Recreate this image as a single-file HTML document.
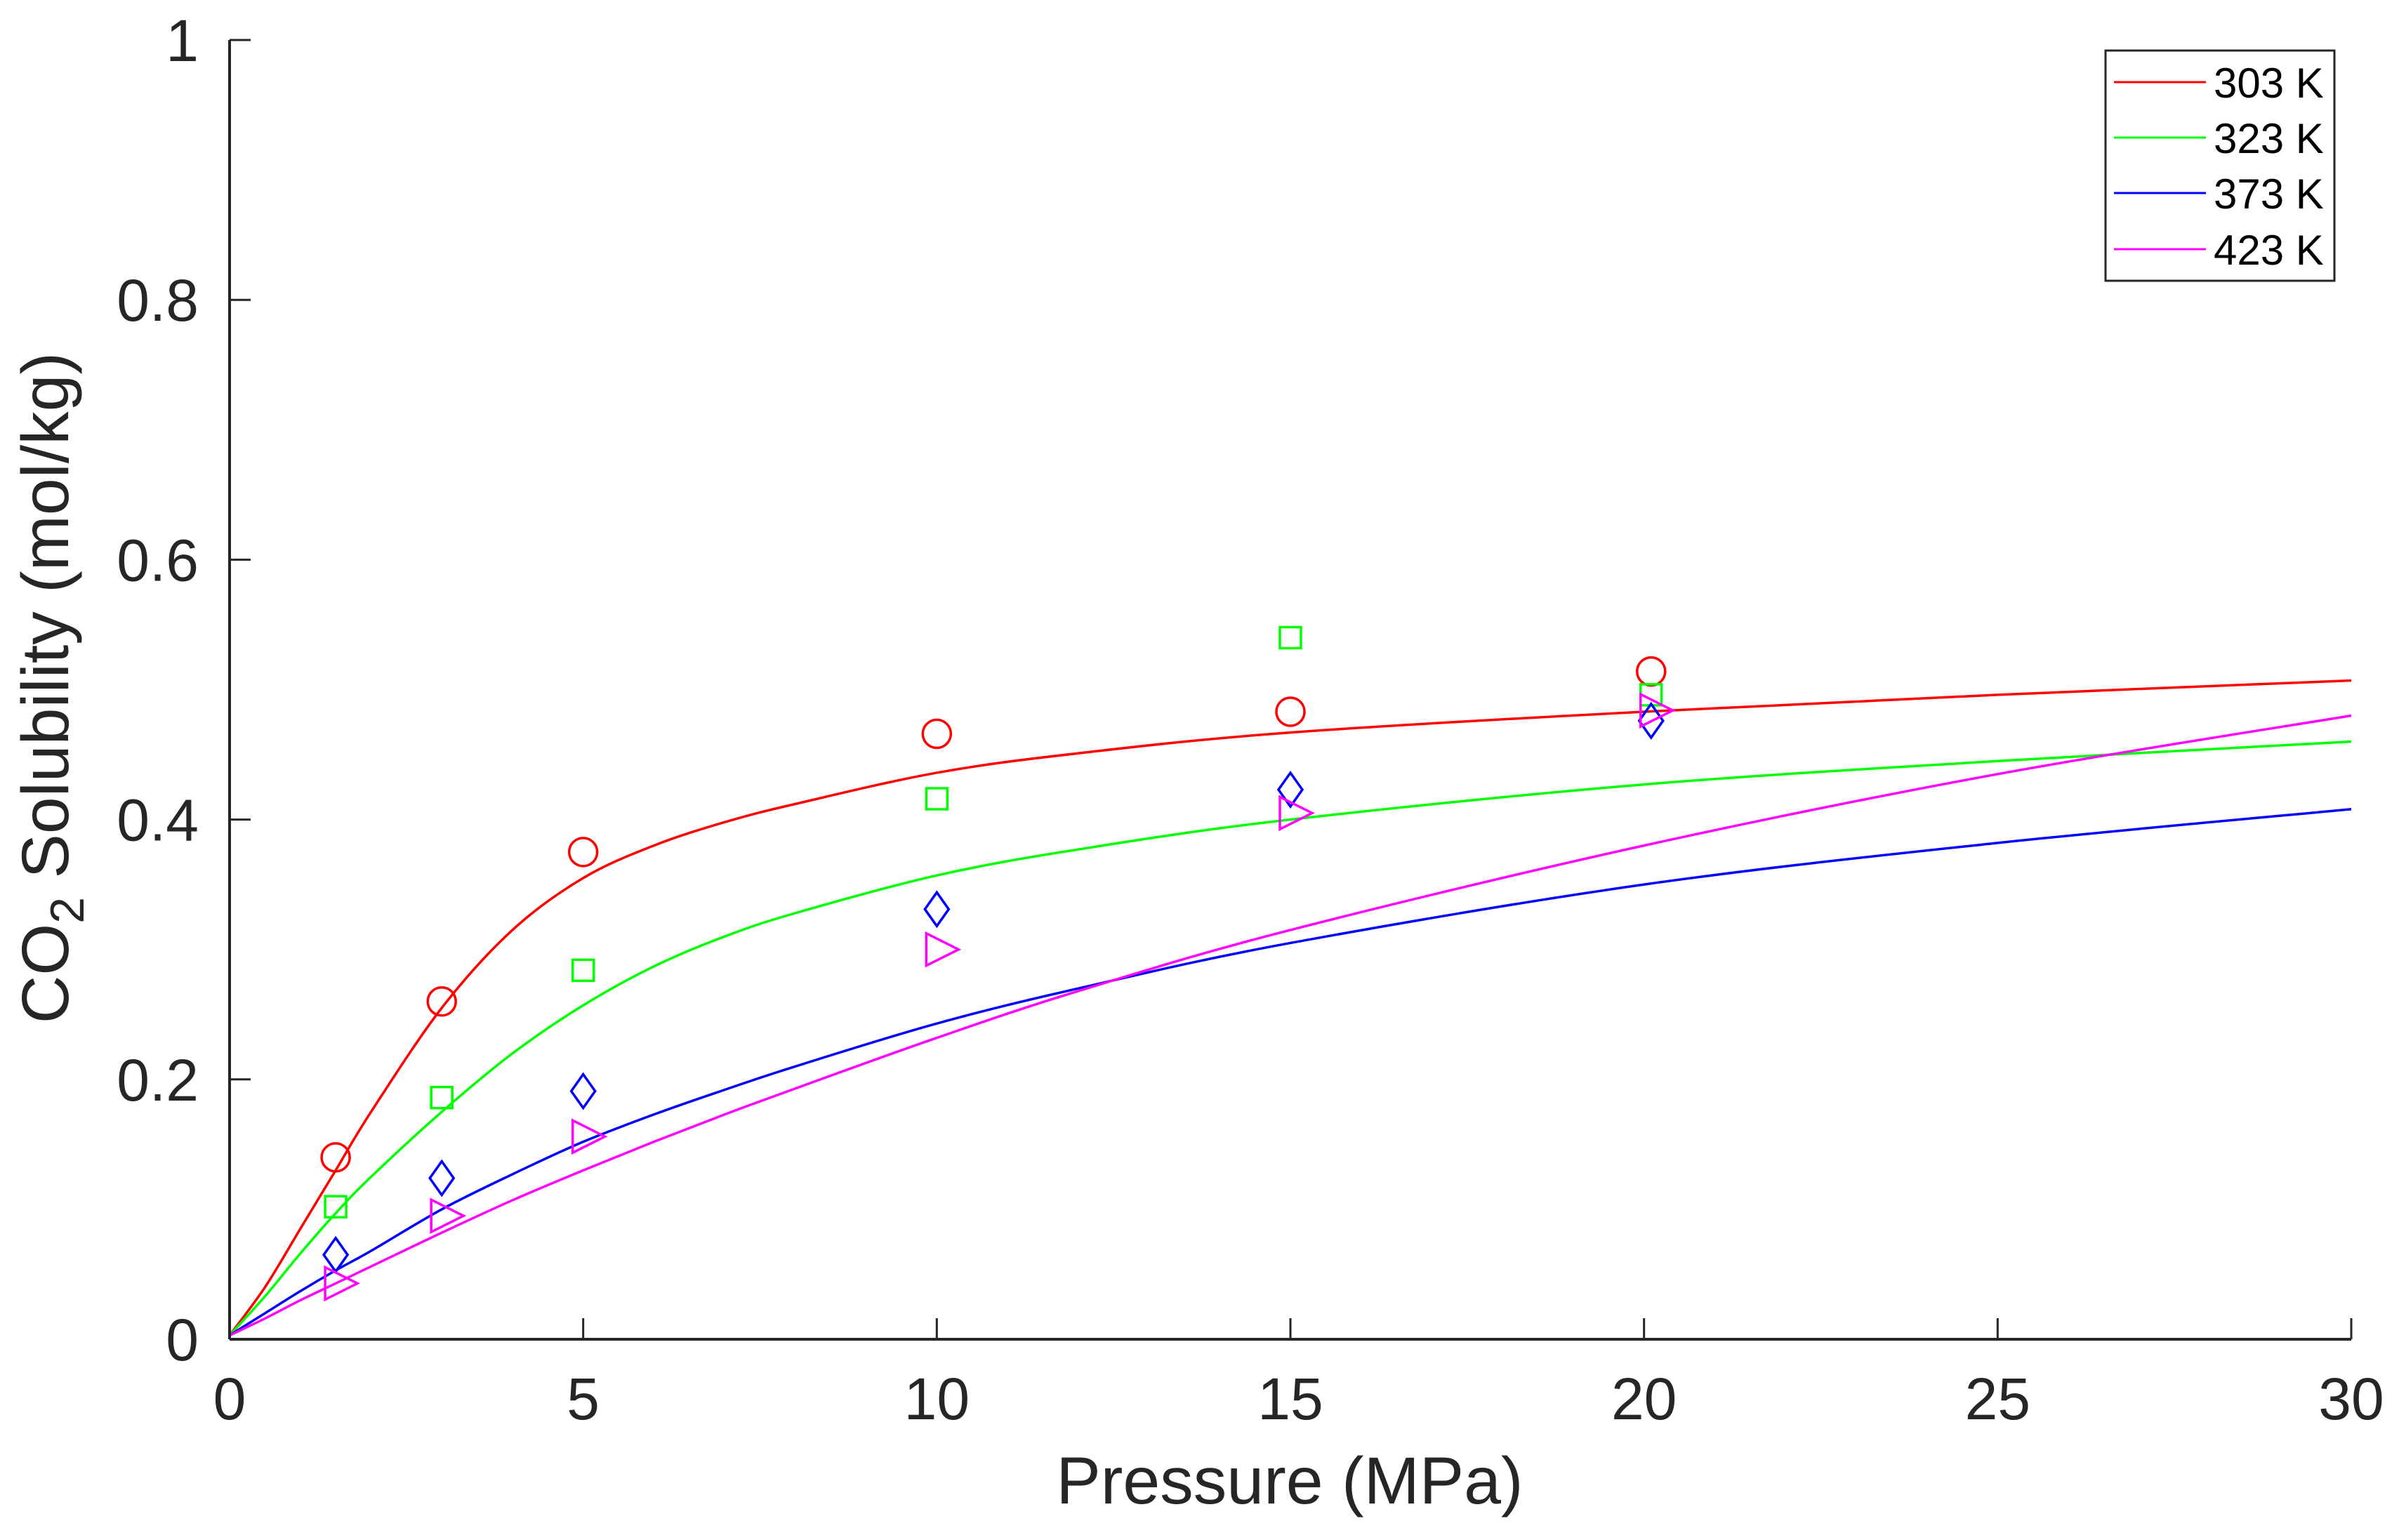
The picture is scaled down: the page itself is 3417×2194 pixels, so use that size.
<!DOCTYPE html>
<html><head><meta charset="utf-8"><style>
html,body{margin:0;padding:0;background:#fff;}
svg{display:block;font-family:"Liberation Sans",Arial,sans-serif;}
</style></head><body>
<svg id="chart" width="3417" height="2194" viewBox="0 0 3417 2194" xmlns="http://www.w3.org/2000/svg">
<rect width="3417" height="2194" fill="#fff"/>
<g id="curves"></g>
<g id="markers"></g>
<g id="axes"></g>
<text x="1837" y="2142" font-size="95" text-anchor="middle" fill="#262626">Pressure (MPa)</text>
<text transform="translate(97,980) rotate(-90)" font-size="95" text-anchor="middle" fill="#262626">CO<tspan font-size="68" dy="22">2</tspan><tspan dy="-22"> Solubility (mol/kg)</tspan></text>
<g>
<rect x="2999" y="72" width="326" height="328" fill="#fff" stroke="#262626" stroke-width="3"/>
<g id="legend-items"></g>
</g>
</svg>
<script>
const xTicks=[0,5,10,15,20,25,30];
const yTicks=[0,0.2,0.4,0.6,0.8,1];
const yTickLabels=["0","0.2","0.4","0.6","0.8","1"];
const seriesNames=["303 K","323 K","373 K","423 K"];
const seriesColors=["#ff0000","#00ff00","#0000ff","#ff00ff"];
const expP=[1.5,3,5,10,15,20.1];
const exp303=[0.14,0.26,0.375,0.466,0.483,0.514];
const exp323=[0.102,0.186,0.284,0.416,0.540,0.496];
const exp373=[0.065,0.124,0.191,0.331,0.423,0.476];
const exp423=[0.043,0.095,0.156,0.300,0.405,0.484];
const modelP=[0,0.5,1,1.5,2,3,4,5,6,7,8,10,12,15,20,25,30];
const model303=[0.003,0.04,0.085,0.13,0.175,0.255,0.315,0.355,0.38,0.398,0.412,0.436,0.451,0.467,0.483,0.496,0.507];
const model323=[0.003,0.033,0.066,0.097,0.125,0.175,0.22,0.257,0.287,0.31,0.328,0.357,0.377,0.40,0.427,0.445,0.46];
const model373=[0.003,0.02,0.037,0.053,0.068,0.10,0.127,0.152,0.173,0.192,0.21,0.243,0.27,0.305,0.35,0.382,0.408];
const model423=[0.003,0.016,0.03,0.043,0.056,0.082,0.107,0.13,0.152,0.173,0.193,0.232,0.268,0.315,0.38,0.435,0.48];

const X0=327,X1=3349,Y0=1908,Y1=57;
function sx(v){return X0+(v-0)/(30-0)*(X1-X0);}
function sy(v){return Y0-(v-0)/(1-0)*(Y0-Y1);}
const NS="http://www.w3.org/2000/svg";
function mk(tag,attrs,parent){const e=document.createElementNS(NS,tag);for(const k in attrs)e.setAttribute(k,attrs[k]);parent.appendChild(e);return e;}

const curves=document.getElementById('curves');
const models=[model303,model323,model373,model423];
models.forEach((m,si)=>{
  const pts=modelP.map((p,i)=>[sx(p),sy(m[i])]);
  let d="M"+pts[0][0]+","+pts[0][1];
  for(let i=0;i<pts.length-1;i++){
    const p0=pts[Math.max(0,i-1)],p1=pts[i],p2=pts[i+1],p3=pts[Math.min(pts.length-1,i+2)];
    const c1=[p1[0]+(p2[0]-p0[0])/6,p1[1]+(p2[1]-p0[1])/6];
    const c2=[p2[0]-(p3[0]-p1[0])/6,p2[1]-(p3[1]-p1[1])/6];
    d+=" C"+c1[0]+","+c1[1]+" "+c2[0]+","+c2[1]+" "+p2[0]+","+p2[1];
  }
  const el=mk('path',{d:d,fill:"none",stroke:seriesColors[si],"stroke-width":3.5},curves);
  
  
});

const markers=document.getElementById('markers');
const exps=[exp303,exp323,exp373,exp423];
exps.forEach((arr,si)=>{
  arr.forEach((v,i)=>{
    const cx=sx(expP[i]),cy=sy(v),c=seriesColors[si];
    let el;
    if(si===0) el=mk('circle',{cx:cx,cy:cy,r:20,fill:"none",stroke:c,"stroke-width":3.5},markers);
    else if(si===1) el=mk('rect',{x:cx-15,y:cy-15,width:30,height:30,fill:"none",stroke:c,"stroke-width":3.5},markers);
    else if(si===2) el=mk('polygon',{points:`${cx},${cy-24} ${cx+17},${cy} ${cx},${cy+24} ${cx-17},${cy}`,fill:"none",stroke:c,"stroke-width":3.5},markers);
    else el=mk('polygon',{points:`${cx-15},${cy-23} ${cx+31},${cy} ${cx-15},${cy+23}`,fill:"none",stroke:c,"stroke-width":3.5},markers);
    
    
  });
});

const axes=document.getElementById('axes');
const xl=mk('line',{x1:X0,y1:Y0,x2:X1,y2:Y0,stroke:"#262626","stroke-width":4},axes);


const yl=mk('line',{x1:X0,y1:Y0,x2:X0,y2:Y1,stroke:"#262626","stroke-width":4},axes);


xTicks.forEach(t=>{
  const x=sx(t);
  const tk=mk('line',{x1:x,y1:Y0,x2:x,y2:Y0-30,stroke:"#262626","stroke-width":3},axes);
  
  
  const tx=mk('text',{x:x,y:2022,"font-size":84,"text-anchor":"middle",fill:"#262626"},axes);
  tx.textContent=String(t);
  
  
});
yTicks.forEach((t,i)=>{
  const y=sy(t);
  const tk=mk('line',{x1:X0,y1:y,x2:X0+30,y2:y,stroke:"#262626","stroke-width":3},axes);
  
  
  const tx=mk('text',{x:283,y:y+30,"font-size":84,"text-anchor":"end",fill:"#262626"},axes);
  tx.textContent=yTickLabels[i];
  
  
});

const leg=document.getElementById('legend-items');
const legY=[117,196,275,355];
seriesNames.forEach((n,i)=>{
  const ln=mk('line',{x1:3011,y1:legY[i],x2:3142,y2:legY[i],stroke:seriesColors[i],"stroke-width":3},leg);
  
  
  const tx=mk('text',{x:3153,y:legY[i]+22,"font-size":60,fill:"#000"},leg);
  tx.textContent=n;
  
  
});
</script>
</body></html>
